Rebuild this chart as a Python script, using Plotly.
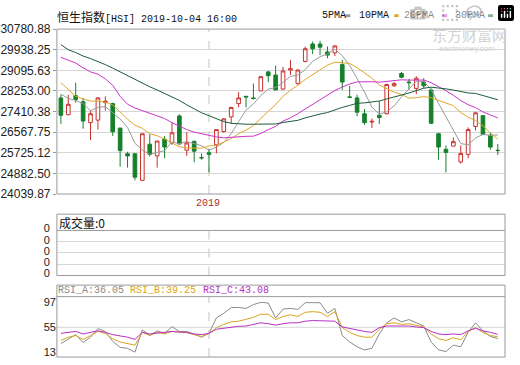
import plotly.graph_objects as go

W, H = 520, 365

# ---------------- data (weekly HSI) ----------------
weeks = list(range(60))
year_start_index = 20

opens = [27969, 27282, 28059, 27813, 26958, 27061, 27774, 27735, 26737, 25688,
         25688, 24599, 26076, 25597, 26284, 26115, 27230, 25830, 26193, 25530,
         25727, 26050, 26595, 27191, 27735, 28033, 27969, 28254, 29031, 28902,
         28331, 29109, 28552, 29459, 30172, 30172, 29848, 29809, 29329, 28007,
         27969, 27321, 26984, 27256, 27321, 28461, 28967, 28617, 28357, 28617,
         28293, 26504, 25869, 25999, 25351, 25662, 26802, 27243, 26439, 25830]
highs = [28098, 28098, 28591, 27969, 27450, 27995, 28033, 27774, 26737, 25765,
         25688, 26504, 26478, 26206, 26413, 26958, 27295, 26569, 26219, 25701,
         25895, 26673, 27126, 27606, 28202, 28033, 28552, 28837, 29070, 29291,
         29239, 29524, 29135, 30068, 30275, 30301, 30068, 30107, 29524, 28461,
         28098, 27515, 27126, 27839, 28552, 28617, 29031, 28746, 28850, 28772,
         28357, 26543, 26025, 26349, 26025, 26763, 27398, 27256, 26543, 26089]
lows = [26906, 27256, 27774, 26711, 26245, 26673, 27450, 26413, 25156, 25117,
        24599, 24573, 25571, 25117, 25506, 26050, 26050, 25597, 25338, 25442,
        24923, 25701, 26543, 26906, 27580, 27580, 27904, 28254, 28617, 28293,
        28293, 28902, 28513, 29420, 29757, 29718, 29589, 29679, 28293, 27969,
        27217, 26867, 26737, 26906, 27295, 28422, 28772, 28293, 28124, 28357,
        26906, 25442, 24923, 25986, 25286, 25506, 26634, 26439, 25856, 25636]
closes = [27256, 27709, 27904, 27023, 27321, 27969, 27839, 26582, 25817, 25597,
          24729, 26504, 25662, 26206, 25960, 26543, 26089, 26128, 25791, 25519,
          25662, 26673, 27113, 27580, 27969, 28007, 27943, 28837, 28876, 28293,
          29070, 29161, 29109, 29977, 29977, 30042, 29718, 30094, 28617, 27995,
          27385, 26958, 27010, 27165, 28513, 28552, 28811, 28591, 28772, 28461,
          26932, 25960, 25739, 26180, 25701, 26673, 27359, 26478, 25960, 25817]

ma5 = [28124, 27943, 27865, 27735, 27443, 27585, 27611, 27347, 27106, 26761,
       26113, 25846, 25662, 25740, 25812, 26175, 26092, 26185, 26102, 26014,
       25838, 25955, 26152, 26509, 26999, 27468, 27722, 28067, 28326, 28391,
       28604, 28847, 28902, 29122, 29459, 29653, 29765, 29962, 29690, 29293,
       28762, 28210, 27593, 27303, 27406, 27640, 28010, 28326, 28648, 28637,
       28313, 27743, 27173, 26654, 26102, 26051, 26330, 26478, 26434, 26457]
ma10 = [28591, 28293, 28033, 27930, 27839, 27839, 27800, 27683, 27385, 27102,
        26849, 26729, 26504, 26423, 26287, 26144, 25969, 25924, 25921, 25913,
        26006, 26023, 26168, 26306, 26507, 26653, 26839, 27109, 27418, 27695,
        28036, 28285, 28484, 28724, 28925, 29129, 29306, 29432, 29406, 29376,
        29208, 28987, 28777, 28496, 28350, 28201, 28110, 27960, 27975, 28022,
        27977, 27877, 27750, 27651, 27370, 27182, 27037, 26826, 26544, 26280]
ma20 = [29627, 29498, 29394, 29200, 29031, 28941, 28746, 28487, 28033, 27709,
        27554, 27450, 27347, 27256, 27126, 26958, 26802, 26673, 26569, 26507,
        26428, 26376, 26336, 26364, 26397, 26399, 26404, 26516, 26669, 26804,
        27021, 27154, 27326, 27515, 27716, 27891, 28072, 28271, 28412, 28536,
        28622, 28636, 28631, 28610, 28637, 28665, 28708, 28696, 28691, 28699,
        28592, 28432, 28263, 28074, 27860, 27691, 27573, 27393, 27260, 27151]
ma30 = [30146, 29939, 29822, 29679, 29576, 29459, 29329, 29187, 29031, 28876,
        28707, 28552, 28422, 28293, 28150, 27995, 27865, 27684, 27515, 27360,
        27243, 27113, 26997, 26932, 26906, 26893, 26893, 26893, 26893, 26903,
        26964, 27012, 27052, 27151, 27239, 27309, 27371, 27488, 27582, 27661,
        27750, 27765, 27810, 27842, 27927, 27994, 28085, 28167, 28266, 28364,
        28407, 28383, 28337, 28290, 28215, 28170, 28151, 28072, 27975, 27893]

volumes = [0, 0, 0, 0, 0, 0, 0, 0, 0, 0, 0, 0, 0, 0, 0, 0, 0, 0, 0, 0,
           0, 0, 0, 0, 0, 0, 0, 0, 0, 0, 0, 0, 0, 0, 0, 0, 0, 0, 0, 0,
           0, 0, 0, 0, 0, 0, 0, 0, 0, 0, 0, 0, 0, 0, 0, 0, 0, 0, 0, 0]

rsi_a = [27.6, 35.7, 42.7, 29.2, 38.4, 52.9, 48.1, 31.4, 21.2, 19.5,
         13.1, 50.8, 41.1, 49.1, 44.8, 56.1, 48.1, 48.1, 43.8, 38.4,
         44.8, 70.7, 78.7, 88.4, 88.4, 86.8, 93.3, 97.0, 96.0, 70.7,
         85.7, 86.8, 85.2, 96.5, 96.5, 96.5, 78.7, 86.8, 41.1, 30.3,
         22.2, 16.9, 19.5, 43.8, 62.6, 70.7, 64.2, 68.0, 62.6, 57.2,
         30.3, 16.9, 14.2, 24.9, 22.2, 46.5, 62.6, 49.1, 39.5, 36.05]
rsi_b = [33.0, 38.4, 41.1, 34.6, 41.1, 48.1, 44.8, 35.7, 30.3, 27.6,
         24.9, 46.5, 41.1, 46.5, 43.8, 48.1, 46.5, 45.9, 42.7, 39.5,
         44.8, 54.5, 59.9, 64.2, 65.3, 68.0, 71.7, 77.1, 77.1, 68.0,
         73.3, 76.0, 73.3, 80.3, 81.4, 80.3, 73.3, 81.4, 54.5, 46.5,
         41.1, 38.4, 38.4, 51.8, 61.0, 62.6, 59.9, 61.0, 58.8, 55.6,
         43.8, 35.7, 33.0, 37.3, 34.1, 48.1, 54.5, 46.5, 41.1, 39.25]
rsi_c = [44.8, 46.5, 48.1, 43.8, 46.5, 49.1, 46.5, 42.7, 40.5, 38.4,
         34.6, 46.5, 43.8, 45.4, 45.9, 48.1, 47.0, 46.5, 43.8, 42.7,
         44.8, 51.8, 53.4, 55.6, 56.7, 57.2, 59.9, 62.6, 61.0, 58.8,
         61.0, 62.6, 62.6, 65.3, 66.4, 66.4, 65.3, 65.3, 55.6, 52.9,
         50.2, 48.1, 46.5, 54.5, 57.2, 57.2, 57.2, 57.2, 55.6, 54.5,
         48.1, 43.8, 42.7, 43.8, 42.7, 49.1, 53.4, 49.1, 46.5, 43.08]

price_ticks = [24039.87, 24882.50, 25725.12, 26567.75, 27410.38,
               28253.00, 29095.63, 29938.25, 30780.88]
vol_ticks = [0, 0.25, 0.5, 0.75, 1]
vol_tick_labels = ["0", "0", "0", "0", "0"]
rsi_ticks = [13, 55, 97]
ma_names = ["5PMA", "10PMA", "20PMA", "30PMA"]

# ---------------- style ----------------
RED = "#c8302c"
GREEN = "#16802b"
MA_COLORS = ["#9a9a9a", "#e3a52a", "#cc33cc", "#1c5c3a"]
RSI_COLORS = ["#8a8a8a", "#d9a520", "#b830c0"]
BORDER = "#9a9a9a"
GRID = "#d6d6d6"


def px(x):
    return x / W


def py(y):
    return 1 - y / H


XL, XR = 56, 505
TOP = (22, 194)
VOL = (215, 232, 279)
RSI = (289, 301, 364)

fig = go.Figure()

fig.add_trace(go.Candlestick(
    x=weeks, open=opens, high=highs, low=lows, close=closes,
    increasing=dict(line=dict(color=RED, width=1), fillcolor="white"),
    decreasing=dict(line=dict(color=GREEN, width=1), fillcolor=GREEN),
    whiskerwidth=0, xaxis="x", yaxis="y", hoverinfo="skip"))

for ma, col in zip([ma5, ma10, ma20, ma30], MA_COLORS):
    fig.add_trace(go.Scatter(x=weeks, y=ma, mode="lines",
                             line=dict(color=col, width=1),
                             xaxis="x", yaxis="y", hoverinfo="skip"))

fig.add_trace(go.Bar(x=weeks, y=volumes, marker_color=GREEN,
                     xaxis="x2", yaxis="y2", hoverinfo="skip"))

for r, col in zip([rsi_a, rsi_b, rsi_c], RSI_COLORS):
    fig.add_trace(go.Scatter(x=weeks, y=r, mode="lines",
                             line=dict(color=col, width=1),
                             xaxis="x3", yaxis="y3", hoverinfo="skip"))

xr = [-0.54, 59.98]
xcommon = dict(range=xr, showticklabels=False, showgrid=False, zeroline=False,
               showline=False, ticks="", fixedrange=True)

fig.update_layout(
    width=W, height=H, margin=dict(l=0, r=0, t=0, b=0),
    paper_bgcolor="white", plot_bgcolor="white", showlegend=False,
    bargap=0.3, boxgap=0.3,
    xaxis=dict(domain=[px(XL), px(XR)], anchor="y",
               rangeslider=dict(visible=False), **xcommon),
    xaxis2=dict(domain=[px(XL), px(XR)], anchor="y2", **xcommon),
    xaxis3=dict(domain=[px(XL), px(XR)], anchor="y3", **xcommon),
    yaxis=dict(domain=[py(TOP[1]), py(TOP[0])], anchor="x",
               range=[price_ticks[0], price_ticks[-1]],
               tickvals=price_ticks, ticktext=[f"{v:.2f}" for v in price_ticks],
               showgrid=True, gridcolor=GRID, gridwidth=1, zeroline=False,
               ticks="outside", ticklen=3, tickcolor=BORDER,
               tickfont=dict(family="Liberation Sans", size=12, color="#222"),
               fixedrange=True),
    yaxis2=dict(domain=[py(VOL[2]), py(VOL[1])], anchor="x2",
                range=[0, 1], tickvals=vol_ticks, ticktext=vol_tick_labels,
                showgrid=True, gridcolor=GRID, zeroline=False, ticks="",
                ticklabelstandoff=6, ticklabelshift=-2,
                tickfont=dict(family="Liberation Sans", size=11, color="#222"),
                fixedrange=True),
    yaxis3=dict(domain=[py(RSI[2]), py(RSI[1])], anchor="x3",
                range=[4.9, 106.7], tickvals=rsi_ticks,
                ticktext=[str(v) for v in rsi_ticks],
                showgrid=False, zeroline=False, ticks="",
                tickfont=dict(family="Liberation Sans", size=11, color="#222"),
                fixedrange=True),
)

shapes = []
line = dict(color=BORDER, width=1)
# panel frames
shapes.append(dict(type="rect", xref="paper", yref="paper", x0=px(XL), x1=px(XR),
                   y0=py(TOP[1]), y1=py(TOP[0]), line=line, layer="above"))
shapes.append(dict(type="rect", xref="paper", yref="paper", x0=px(XL), x1=px(XR),
                   y0=py(VOL[2]), y1=py(VOL[0]), line=line, layer="above"))
shapes.append(dict(type="line", xref="paper", yref="paper", x0=px(XL), x1=px(XR),
                   y0=py(VOL[1]), y1=py(VOL[1]), line=line))
shapes.append(dict(type="rect", xref="paper", yref="paper", x0=px(XL), x1=px(XR),
                   y0=py(RSI[2]), y1=py(RSI[0]), line=line, layer="above"))
shapes.append(dict(type="line", xref="paper", yref="paper", x0=px(XL), x1=px(XR),
                   y0=py(RSI[1]), y1=py(RSI[1]), line=line))
# RSI mid grid line
shapes.append(dict(type="line", xref="x3 domain", yref="y3", x0=0, x1=1,
                   y0=55, y1=55, line=dict(color=GRID, width=1), layer="below"))
# year separator
for (a, b) in [(TOP[0], TOP[1]), (VOL[1], VOL[2]), (RSI[1], RSI[2])]:
    shapes.append(dict(type="line", xref="x", yref="paper",
                       x0=year_start_index, x1=year_start_index,
                       y0=py(b), y1=py(a),
                       line=dict(color="#c4c4c4", width=1, dash="dash"),
                       layer="below"))
# legend swatches
for xs, col in zip([345, 394, 442, 488], MA_COLORS):
    shapes.append(dict(type="rect", xref="paper", yref="paper",
                       x0=px(xs), x1=px(xs + 5), y0=py(9.5), y1=py(6.5),
                       line=dict(width=0), fillcolor=col))
fig.update_layout(shapes=shapes)

ann = []


def text(x, y, s, size=12, color="#222", family="Liberation Mono", anchor="left"):
    ann.append(dict(x=px(x), y=py(y), xref="paper", yref="paper", text=s,
                    showarrow=False, xanchor=anchor, yanchor="middle",
                    font=dict(size=size, color=color, family=family),
                    borderpad=0))


text(55, 9, '<span style="font-family:Noto Sans CJK SC;font-size:12px">恒生指数</span>'
     '[HSI] 2019-10-04 16:00', size=10, color="#111")
for xs, name in zip([321, 358, 403, 454], ma_names):
    text(xs, 8, name, size=10, color="#111")
# watermark
text(469, 28, "东方财富网", size=15, color="#d2d2d2", family="Noto Sans CJK SC", anchor="center")
text(467, 42, "eastmoney.com", size=8, color="#d2d2d2", family="Liberation Sans", anchor="center")
# year label
text(207, 204, "2019", size=10, color="#b03030", anchor="center")
# volume title
text(57, 224, "成交量:0", size=12, color="#111", family="Noto Sans CJK SC")
# RSI title
text(56, 295, "RSI_A:36.05", size=10, color=RSI_COLORS[0])
text(128, 295, "RSI_B:39.25", size=10, color=RSI_COLORS[1])
text(201, 295, "RSI_C:43.08", size=10, color=RSI_COLORS[2])
fig.update_layout(annotations=ann)

fig.write_html("out.html",
               post_script="document.body.style.margin='0';"
                           "document.body.style.overflow='hidden';")
